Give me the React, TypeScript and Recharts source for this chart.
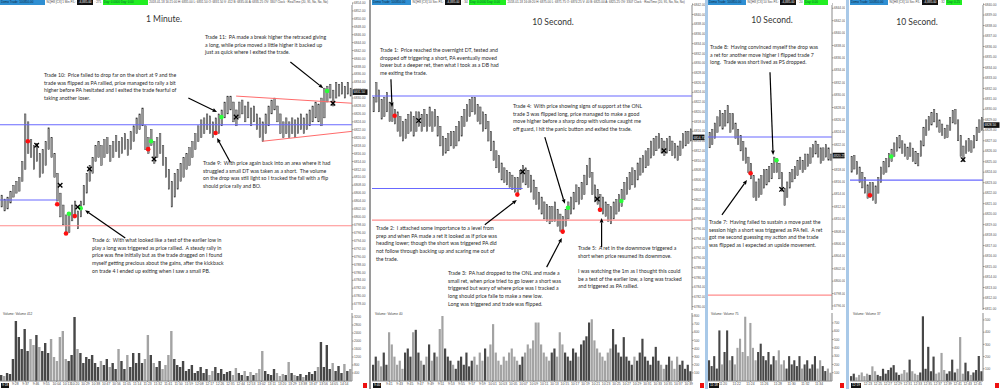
import React from "react";
import { ComposedChart, Bar, Scatter, XAxis, YAxis, ReferenceLine, Cell } from "recharts";

type Pair = [number, number];
type Seg = [number, number, number, number];

// levels carried over from the morning prep
const onh = 6823.25;
const prepLevel = 6804.25;
const onl = 6797.75;

// ---------- 1 minute ----------
const p1Start = "9:16";
const p1Step = 153; // seconds per drawn bar
// [low, high]
const p1Bars: Pair[] = [
  [6802.5, 6805.5], [6801.5, 6804.5], [6802, 6805], [6803.5, 6806.5], [6805, 6808], [6806, 6809], [6806.5, 6810], [6809, 6814], [6812, 6826], [6816, 6824],
  [6815, 6819.5], [6812, 6818], [6814, 6818.5], [6810, 6816], [6811, 6817], [6813, 6819], [6817, 6822.5], [6815, 6820], [6810, 6816], [6804, 6811],
  [6800, 6806], [6798, 6803], [6795.5, 6800.5], [6796, 6801], [6799, 6803], [6800, 6804], [6797, 6801.5], [6800, 6804], [6803, 6808], [6806, 6811],
  [6809, 6813], [6811, 6815], [6814, 6818], [6815, 6819], [6813, 6818], [6815, 6819.5], [6816, 6820], [6814, 6818], [6815, 6819], [6816.5, 6820.5],
  [6815, 6819], [6816, 6820], [6817, 6821], [6815.5, 6819.5], [6817, 6821.5], [6819, 6823], [6821, 6825], [6822, 6826], [6823, 6827.5], [6817, 6823],
  [6816, 6820], [6818, 6822], [6813.5, 6819], [6815, 6820], [6816, 6821], [6813, 6818], [6810, 6815], [6807, 6812], [6802.5, 6809], [6805, 6811],
  [6807, 6812], [6809, 6813.5], [6810, 6815], [6812, 6816], [6813, 6817.5], [6815, 6819], [6817, 6821], [6819, 6823], [6820, 6824.5], [6821, 6825],
  [6822, 6826], [6821, 6825.5], [6820, 6824], [6821, 6825], [6821, 6826], [6823, 6827], [6825, 6829], [6826, 6830.5], [6827, 6830.5], [6824, 6829],
  [6823, 6827], [6825, 6829], [6826, 6829.5], [6824, 6828], [6825, 6829], [6823, 6827.5], [6824, 6828], [6822, 6826], [6820, 6825], [6819, 6824],
  [6821, 6826], [6823, 6828], [6826, 6829.5], [6827, 6830], [6824, 6828], [6821, 6826], [6820, 6824], [6821, 6825], [6820, 6824], [6821, 6825],
  [6820, 6824.5], [6821, 6825], [6822, 6826], [6821, 6825], [6822, 6826], [6823, 6827], [6824, 6828], [6825, 6829], [6824, 6828.5], [6823, 6830],
  [6825, 6832.5], [6829, 6833], [6830, 6833.5], [6828, 6832], [6830, 6834], [6830.5, 6833.5], [6831, 6834], [6830, 6833], [6831, 6834], [6830.5, 6832.5],
];
const p1Volume = [
  300, 250, 400, 350, 1100, 3000, 2200, 1600, 2600, 1500,
  2100, 1800, 2300, 1700, 1500, 1900, 1400, 2100, 1200, 1000,
  2200, 2500, 1100, 1000, 1300, 3200, 1600, 1400, 900, 1200,
  1100, 1300, 900, 700, 1000, 800, 1100, 700, 900, 600,
  1600, 1000, 600, 1300, 700, 1400, 900, 1400, 900, 1100,
  2300, 1300, 900, 700, 1000, 600, 800, 1300, 2500, 1100,
  800, 700, 1000, 500, 600, 800, 400, 500, 700, 400,
  600, 300, 500, 700, 400, 600, 350, 450, 500, 300,
  650, 400, 300, 500, 250, 450, 300, 400, 600, 1500,
  500, 350, 300, 600, 400, 250, 350, 300, 950, 400,
  300, 250, 350, 200, 300, 450, 350, 500, 700, 1950,
  700, 1800, 600, 900, 500, 750, 400, 850, 500, 600,
];
const p1Times = [
  "9:28", "9:37", "9:46", "9:55", "10:04", "10:13", "10:20", "10:29", "10:38", "10:47", "10:56",
  "11:05", "11:14", "11:23", "11:32", "11:41", "11:50", "11:59", "12:08", "12:17", "12:26",
  "12:35", "12:44", "12:53", "13:02", "13:11", "13:20", "13:29", "13:38", "13:47", "13:56", "14:05", "14:14",
];
// [bar index, price]
const p1Longs: Pair[] = [[23, 6800.8], [27, 6802.2], [51, 6819.1], [75, 6825.2], [111, 6831.8]];
const p1Shorts: Pair[] = [[9, 6819.1], [19, 6803.2], [22, 6795.8], [25, 6800.2], [50, 6817.1], [73, 6821.2]];
const p1Exits: Pair[] = [[12, 6818.1], [20, 6808], [26, 6802.5], [30, 6812.1], [52, 6814.6], [80, 6825.2], [113, 6828.7]];
const p1Arrows: Seg[] = [[98.5, 6839.1, 109.7, 6832.5], [63.7, 6830, 73.5, 6826.5], [78, 6813.8, 73.5, 6819.9], [42.2, 6794.7, 28.5, 6801.7]];
const p1Trend: Seg[] = [[80, 6830.5, 119.5, 6828.7], [89, 6819.1, 119.5, 6821.6]];

// ---------- 10 second (a) ----------
const p2Start = "9:37:54";
const p2Step = 31;
const p2Bars: Pair[] = [
  [6820, 6823], [6822, 6826], [6820, 6824.5], [6818.5, 6822.5], [6819, 6823], [6820, 6824], [6818, 6822], [6818, 6821.5], [6817.5, 6820.5], [6816, 6820],
  [6815, 6819], [6814, 6818], [6814.5, 6818.5], [6815.5, 6819.5], [6816, 6820], [6815, 6819], [6816, 6820], [6817, 6820], [6816, 6819.5], [6817, 6820.5],
  [6816, 6819.5], [6817, 6821], [6816, 6820], [6817, 6820.5], [6815, 6819], [6813, 6817], [6811, 6815], [6811.5, 6814.5], [6812, 6815.5], [6813, 6816],
  [6812.5, 6816], [6813, 6817], [6814, 6818], [6815, 6819], [6817, 6820.5], [6818, 6821.5], [6819, 6822.5], [6820, 6823], [6819.5, 6823], [6818, 6821.5],
  [6817.5, 6821], [6816, 6820], [6816.5, 6819.5], [6814, 6818], [6812, 6816], [6810, 6814], [6808.5, 6812], [6807.5, 6811], [6806, 6809.5], [6805.5, 6808.5],
  [6805, 6808], [6804.5, 6807.5], [6804, 6807], [6803.5, 6806.5], [6803, 6806.5], [6804, 6808], [6805.5, 6809], [6805, 6808.5], [6804.5, 6808], [6803.5, 6807],
  [6802, 6806], [6801, 6804.5], [6800, 6803.5], [6799, 6802.5], [6798, 6801.5], [6797.5, 6801], [6797, 6800.5], [6797.5, 6800.5], [6797.5, 6801.5], [6796.5, 6800],
  [6795.5, 6799], [6795, 6798.5], [6796.5, 6800], [6798, 6801.5], [6799, 6802.5], [6800, 6803.5], [6801.5, 6805], [6801, 6804.5], [6802, 6805.5], [6803, 6807],
  [6805, 6809], [6806.5, 6810.5], [6803, 6807.5], [6801.5, 6805], [6801, 6804], [6799.5, 6803], [6799, 6802.5], [6798.5, 6801.5], [6797.5, 6801], [6797, 6800.5],
  [6798, 6801.5], [6799, 6802], [6799.5, 6803], [6800.5, 6804], [6802, 6805.5], [6803, 6806.5], [6804, 6807.5], [6805, 6808.5], [6804.5, 6808], [6806, 6809.5],
  [6807, 6810.5], [6807.5, 6811], [6808.5, 6812], [6809, 6812.5], [6810.5, 6814], [6811, 6814.5], [6812, 6815], [6812.5, 6815.5], [6811.5, 6814.5], [6811, 6814],
  [6811.5, 6814.5], [6812, 6815], [6811, 6814], [6810.5, 6813.5], [6810, 6813], [6811, 6814], [6812.5, 6815.5], [6813, 6816], [6813.5, 6816], [6814, 6816.5],
];
const p2Volume = [
  200, 300, 250, 180, 350, 200, 600, 450, 300, 200,
  250, 150, 350, 400, 300, 600, 630, 350, 250, 200,
  300, 450, 250, 350, 300, 640, 800, 400, 300, 250,
  200, 150, 250, 300, 200, 350, 180, 250, 300, 200,
  350, 250, 400, 300, 450, 700, 350, 250, 200, 300,
  250, 350, 400, 300, 250, 200, 300, 350, 450, 400,
  500, 720, 720, 450, 350, 300, 250, 350, 400, 300,
  600, 450, 350, 300, 250, 400, 350, 300, 450, 500,
  550, 720, 760, 500, 400, 350, 300, 250, 350, 400,
  640, 450, 350, 300, 540, 300, 250, 200, 300, 250,
  350, 520, 300, 250, 200, 300, 420, 250, 200, 150,
  200, 300, 250, 150, 300, 200, 250, 150, 200, 120,
];
const p2Times = [
  "9:41", "9:43", "9:45", "9:47", "9:49", "9:51", "9:53", "9:55", "9:57", "9:59",
  "10:01", "10:03", "10:05", "10:07", "10:09", "10:11", "10:13", "10:15", "10:17", "10:19",
  "10:21", "10:23", "10:25", "10:27", "10:29", "10:31", "10:33", "10:35", "10:37", "10:39",
];
const p2Longs: Pair[] = [[73, 6800.3], [93, 6801.7]];
const p2Shorts: Pair[] = [[8, 6819.2], [54, 6803], [71, 6795.4], [85, 6799.9]];
const p2Exits: Pair[] = [[17, 6818.2], [56, 6807.7], [84, 6802.1], [109, 6812]];
const p2Arrows: Seg[] = [
  [6.6, 6826.7, 7, 6821], [64.3, 6814.8, 71.8, 6801.1], [41.8, 6796.8, 53.8, 6801.9],
  [65, 6788.1, 70.7, 6794.1], [85.6, 6792.2, 85.6, 6798.2],
];

// ---------- 10 second (b) ----------
const p3Start = "11:18";
const p3Step = 22.6;
const p3Bars: Pair[] = [
  [6821.5, 6824], [6822, 6824.5], [6823, 6825.5], [6824, 6826.5], [6825, 6827.5], [6824.5, 6827], [6825, 6827.5], [6825.5, 6828.3], [6824, 6827], [6824.5, 6827],
  [6823, 6825.5], [6822, 6824.5], [6821, 6823.5], [6819.5, 6822.5], [6819, 6821.5], [6817.5, 6820], [6816.5, 6819], [6813.5, 6817], [6813, 6816], [6813.5, 6816.5],
  [6814, 6817], [6815, 6818], [6815.5, 6818], [6816, 6818.5], [6816.5, 6819], [6817.5, 6820], [6817.5, 6819.8], [6816.5, 6819], [6814.5, 6817.5], [6812.2, 6815],
  [6813.5, 6816], [6815, 6817.5], [6816, 6818], [6816.5, 6818.5], [6817, 6819.5], [6818, 6820], [6817.5, 6819.5], [6818, 6820.5], [6818.5, 6820.5], [6819, 6821.5],
  [6820, 6822], [6820.5, 6822.6], [6820, 6822], [6819, 6821.5], [6819.5, 6821.5], [6820, 6822], [6819.5, 6821.5], [6819.5, 6820.5],
];
const p3Volume = [
  250, 180, 300, 150, 610, 200, 350, 610, 250, 300,
  200, 400, 510, 350, 775, 300, 700, 400, 250, 350,
  450, 300, 250, 350, 200, 300, 250, 370, 200, 250,
  150, 300, 200, 250, 180, 300, 150, 200, 250, 150,
  200, 300, 150, 250, 180, 120, 150, 100,
];
const p3Times = ["11:20", "11:22", "11:24", "11:26", "11:28", "11:30", "11:32", "11:34"];
const p3Longs: Pair[] = [[26, 6819.5]];
const p3Shorts: Pair[] = [[16, 6817.4]];
const p3Exits: Pair[] = [[28, 6814.8]];
const p3Arrows: Seg[] = [[23.5, 6833.7, 24.7, 6820.35], [4.9, 6810.7, 14.6, 6816.3]];

// ---------- 10 second (c) ----------
const p4Start = "12:19:40";
const p4Step = 32;
const p4Bars: Pair[] = [
  [6824, 6825.5], [6824.3, 6825.6], [6823.8, 6825], [6823, 6824.5], [6822.5, 6824], [6822, 6823.5], [6821.5, 6822.8], [6821.6, 6823], [6821.3, 6823], [6821, 6822.7],
  [6822, 6823.5], [6823, 6824.5], [6823.8, 6825], [6824, 6825.3], [6824.5, 6825.8], [6825, 6826.2], [6825.5, 6826.8], [6826, 6827.3], [6826.3, 6827.5], [6825.8, 6827],
  [6825.5, 6826.7], [6825.2, 6826.4], [6825.5, 6826.8], [6825, 6826.3], [6824.8, 6826], [6824.6, 6825.8], [6825.5, 6827], [6826.5, 6828.3], [6827.5, 6829], [6828, 6829.3],
  [6828.5, 6829.7], [6828.8, 6830], [6828.3, 6829.6], [6827.8, 6829], [6827.5, 6828.6], [6827.2, 6828.2], [6827.3, 6828.5], [6828, 6829.2], [6828.7, 6829.9], [6828.6, 6830],
  [6827, 6829], [6825.5, 6827.5], [6825, 6826.5], [6825.8, 6827], [6826, 6827.2], [6825.9, 6827], [6826.3, 6827.5], [6827, 6828.3], [6827.8, 6829], [6828, 6829.2],
];
const p4Volume = [
  40, 60, 30, 50, 70, 40, 60, 50, 120, 80,
  50, 40, 100, 60, 90, 110, 130, 70, 50, 60,
  90, 70, 175, 80, 60, 50, 70, 530, 100, 280,
  80, 200, 60, 70, 230, 90, 60, 80, 175, 70,
  100, 360, 60, 150, 80, 50, 70, 90, 205, 80,
];
const p4Times = ["12:23", "12:25", "12:27", "12:29", "12:31", "12:33", "12:35", "12:37", "12:39", "12:41", "12:43", "12:45"];
const p4Longs: Pair[] = [[15, 6825.5]];
const p4Shorts: Pair[] = [[7, 6821.8]];
const p4Exits: Pair[] = [[42, 6825.2]];

// ---------- notes on the chart ----------
const titles = [
  { x: 164, y: 19, text: "1 Minute." },
  { x: 553, y: 22, text: "10 Second." },
  { x: 772, y: 20, text: "10 Second." },
  { x: 917, y: 22, text: "10 Second." },
];
const notes = [
  { x: 205, y: 34, lines: ["Trade 11:  PA made a break higher the retraced giving", "a long, while price moved a little higher it backed up", "just as quick where I exited the trade."] },
  { x: 44, y: 72, lines: ["Trade 10:  Price failed to drop far on the short at 9 and the", "trade was flipped as PA rallied, price managed to rally a bit", "higher before PA hesitated and I exited the trade fearful of", "taking another loser."] },
  { x: 203, y: 160, lines: ["Trade 9:  With price again back into an area where it had", "struggled a small DT was taken as a short.  The volume", "on the drop was still light so I tracked the fall with a flip", "should price rally and BO."] },
  { x: 92, y: 237, lines: ["Trade 6:  With what looked like a test of the earlier low in", "play a long was triggered as price rallied.  A steady rally in", "price was fine initially but as the trade dragged on I found", "myself getting precious about the gains, after the kickback", "on trade 4 I ended up exiting when I saw a small PB."] },
  { x: 380, y: 47, lines: ["Trade 1:  Price reached the overnight DT, tested and", "dropped off triggering a short, PA eventually moved", "lower but a deeper ret, then what I took as a DB had", "me exiting the trade."] },
  { x: 513, y: 103, lines: ["Trade 4:  With price showing signs of support at the ONL", "trade 3 was flipped long, price managed to make a good", "move higher before a sharp drop with volume caught me", "off guard, I hit the panic button and exited the trade."] },
  { x: 376, y: 225, lines: ["Trade 2:  I attached some importance to a level from", "prep and when PA made a ret it looked as if price was", "heading lower; though the short was triggered PA did", "not follow through backing up and scaring me out of", "the trade."] },
  { x: 448, y: 270, lines: ["Trade 3:  PA had dropped to the ONL and made a", "small ret, when price tried to go lower a short was", "triggered but wary of where price was I tracked a", "long should price faile to make a new low.", "Long was triggered and trade was flipped."] },
  { x: 578, y: 245, lines: ["Trade 5:  A ret in the downmove triggered a", "short when price resumed its downmove.", "", "I was watching the 1m as I thought this could", "be a test of the earlier low, a long was tracked", "and triggered as PA rallied."] },
  { x: 710, y: 44, lines: ["Trade 8:  Having convinced myself the drop was", "a ret for another move higher I flipped trade 7", "long.  Trade was short lived as PS dropped."] },
  { x: 709, y: 219, lines: ["Trade 7:  Having failed to sustain a move past the", "session high a short was triggered as PA fell.  A ret", "got me second guessing my action and the trade", "was flipped as I expected an upside movement."] },
];

const toSec = (s: string) => {
  const [h, m, x] = s.split(":").map(Number);
  return h * 3600 + m * 60 + (x || 0);
};
const fmtTime = (v: number) => {
  const h = Math.floor(v / 3600);
  const m = Math.round((v - h * 3600) / 60);
  return `${h}:${String(m).padStart(2, "0")}`;
};
const steps = (from: number, to: number, by: number) => {
  const out: number[] = [];
  for (let v = from; v <= to + 1e-9; v += by) out.push(v);
  return out;
};

const panels = [
  {
    left: 0, plotW: 352, axisW: 16, barW: 1.5, volW: 2.4,
    start: p1Start, step: p1Step, bars: p1Bars, volume: p1Volume, times: p1Times,
    longs: p1Longs, shorts: p1Shorts, exits: p1Exits, arrows: p1Arrows, trend: p1Trend, prepEnd: 19,
    priceDomain: [6776.5, 6854], priceTicks: steps(6778, 6854, 2), last: 6831.5,
    volDomain: [0, 3400], volTicks: steps(400, 3200, 400), volLabel: "Volume: Volume 412", cursor: "9:18",
    head: { blue: 44, sym: "NQH8 [CX] 1 Min   P/L:", pl: "-6,885.00", mid: ": 275", green: 44, day: "Day: 0.0000  Day: 0.00", info: "2018-01-18 16:21:00 H: 6835.00 L: 6831.50 O: 6831.50 V: 412 B: 6835.00 A: 6835.25 OV: 3307 Clock · RealTime   (20, 95, No, No, No)" },
  },
  {
    left: 372, plotW: 320, axisW: 13, barW: 1.4, volW: 2.2,
    start: p2Start, step: p2Step, bars: p2Bars, volume: p2Volume, times: p2Times,
    longs: p2Longs, shorts: p2Shorts, exits: p2Exits, arrows: p2Arrows, trend: [] as Seg[], prepEnd: 56,
    priceDomain: [6779.3, 6842.35], priceTicks: steps(6780, 6842, 2), last: 6814.75,
    volDomain: [0, 837], volTicks: steps(100, 800, 100), volLabel: "Volume: Volume 40", cursor: "9:40",
    head: { blue: 38, sym: "NQH8 [CX] 10 Sec   P/L:", pl: "-6,885.00", mid: ": 34", green: 36, day: "Day: 0.0000  Day: 0.00", info: "2018-01-18 16:09:20 H: 6875.00 L: 6871.75 O: 6874.25 V: 40 B: 6825.00 A: 6825.25 OV: 3307 Clock · RealTime   (20, 95, No, No, No)" },
  },
  {
    left: 708, plotW: 124, axisW: 13, barW: 1.4, volW: 2.1,
    start: p3Start, step: p3Step, bars: p3Bars, volume: p3Volume, times: p3Times,
    longs: p3Longs, shorts: p3Shorts, exits: p3Exits, arrows: p3Arrows, trend: [] as Seg[], prepEnd: null,
    priceDomain: [6795.35, 6844.85], priceTicks: steps(6796, 6844, 2), last: 6820.25,
    volDomain: [0, 820], volTicks: steps(100, 700, 100), volLabel: "Volume: Volume 75", cursor: "11:18",
    head: { blue: 37, sym: "NQH8 [CX] 10 Sec   P/L:", pl: "-6,885.00", mid: ": 20", green: 23, day: "Day: 0.00", info: "" },
  },
  {
    left: 850, plotW: 133, axisW: 17, barW: 1.4, volW: 2.2,
    start: p4Start, step: p4Step, bars: p4Bars, volume: p4Volume, times: p4Times,
    longs: p4Longs, shorts: p4Shorts, exits: p4Exits, arrows: [] as Seg[], trend: [] as Seg[], prepEnd: null,
    priceDomain: [6810.85, 6840.15], priceTicks: steps(6811, 6840, 1), last: 6828.5,
    volDomain: [0, 557], volTicks: steps(100, 500, 100), volLabel: "Volume: Volume 37", cursor: "12:19",
    head: { blue: 37, sym: "NQH8 [CX] 10 Sec   P/L:", pl: "-6,885.00", mid: ": 32", green: 15, day: "Day: 0.25", info: "" },
  },
];

const Candle = (props: any) => {
  const { x, y, width, height } = props;
  if (x == null || y == null) return null;
  return <rect x={x} y={y} width={width} height={Math.max(height, 0.8)} fill="#9a9a9a" stroke="#333" strokeWidth={0.45} />;
};
const RedDot = (p: any) => <circle cx={p.cx} cy={p.cy} r={2.3} fill="#ff1010" />;
const GreenDot = (p: any) => <circle cx={p.cx} cy={p.cy} r={2.3} fill="#2bff3a" />;
const ExitMark = (p: any) => (
  <g stroke="#000" strokeWidth={1.3} strokeLinecap="square">
    <line x1={p.cx - 1.8} y1={p.cy - 1.8} x2={p.cx + 1.8} y2={p.cy + 1.8} />
    <line x1={p.cx - 1.8} y1={p.cy + 1.8} x2={p.cx + 1.8} y2={p.cy - 1.8} />
  </g>
);
const Arrow = (props: any) => {
  const { x1, y1, x2, y2 } = props;
  const a = Math.atan2(y2 - y1, x2 - x1);
  const bx = x2 - 4.5 * Math.cos(a);
  const by = y2 - 4.5 * Math.sin(a);
  const sx = 1.9 * Math.sin(a);
  const sy = 1.9 * Math.cos(a);
  return (
    <g>
      <line x1={x1} y1={y1} x2={bx} y2={by} stroke="#000" strokeWidth={1.2} />
      <polygon points={`${x2},${y2} ${bx + sx},${by - sy} ${bx - sx},${by + sy}`} fill="#000" />
    </g>
  );
};

function Panel({ cfg }: { cfg: (typeof panels)[number] }) {
  const t0 = toSec(cfg.start);
  const t = (i: number) => t0 + i * cfg.step;
  const width = cfg.plotW + cfg.axisW;
  const rows = cfg.bars.map(([lo, hi], i) => {
    const prev = cfg.bars[i - 1];
    return { t: t(i), range: [lo, hi], vol: cfg.volume[i], up: !prev || lo + hi >= prev[0] + prev[1] };
  });
  const xDomain = [t(-0.5), t(cfg.bars.length - 0.5)];
  const pts = (list: Pair[]) => list.map(([i, p]) => ({ t: t(i), p }));
  const h = cfg.head;

  return (
    <div style={{ position: "absolute", left: cfg.left, top: 0, width, height: 389 }}>
      <div style={{ position: "absolute", left: 0, top: 0 }}>
        <ComposedChart width={width} height={310} data={rows} margin={{ top: 3, right: 0, bottom: 0, left: 0 }}>
          <XAxis type="number" dataKey="t" domain={xDomain} allowDataOverflow hide />
          <YAxis
            orientation="right"
            width={cfg.axisW}
            domain={cfg.priceDomain}
            ticks={cfg.priceTicks}
            allowDataOverflow
            interval={0}
            tickFormatter={(v: number) => v.toFixed(2)}
            tick={{ fontSize: 3.2, fill: "#555" }}
            tickSize={1.5}
            tickMargin={0.5}
            axisLine={{ stroke: "#8a8a8a" }}
            tickLine={{ stroke: "#8a8a8a" }}
          />
          <ReferenceLine y={onl} stroke="#ff8c8c" strokeWidth={1.1} />
          <ReferenceLine y={onh} stroke="#6868ff" strokeWidth={1.1} />
          {cfg.prepEnd != null && (
            <ReferenceLine segment={[{ x: t(-0.5), y: prepLevel }, { x: t(cfg.prepEnd), y: prepLevel }]} stroke="#6868ff" strokeWidth={1.1} />
          )}
          {cfg.trend.map((s, k) => (
            <ReferenceLine key={`tr${k}`} segment={[{ x: t(s[0]), y: s[1] }, { x: t(s[2]), y: s[3] }]} stroke="#ff6b6b" strokeWidth={1} />
          ))}
          <Bar dataKey="range" barSize={cfg.barW} shape={Candle} isAnimationActive={false} />
          <Scatter data={pts(cfg.shorts)} dataKey="p" shape={RedDot} isAnimationActive={false} />
          <Scatter data={pts(cfg.longs)} dataKey="p" shape={GreenDot} isAnimationActive={false} />
          <Scatter data={pts(cfg.exits)} dataKey="p" shape={ExitMark} isAnimationActive={false} />
          {cfg.arrows.map((s, k) => (
            <ReferenceLine key={`ar${k}`} segment={[{ x: t(s[0]), y: s[1] }, { x: t(s[2]), y: s[3] }]} shape={Arrow} />
          ))}
          <ReferenceLine
            y={cfg.last}
            stroke="none"
            label={(p: any) => (
              <g>
                <rect x={p.viewBox.x + p.viewBox.width + 0.5} y={p.viewBox.y - 2.8} width={cfg.axisW - 1} height={5.6} fill="#111" />
                <text x={p.viewBox.x + p.viewBox.width + 1.5} y={p.viewBox.y + 1.2} fontSize={3.2} fill="#fff">
                  {cfg.last.toFixed(2)}
                </text>
              </g>
            )}
          />
        </ComposedChart>
      </div>

      <div style={{ position: "absolute", left: 0, top: 312 }}>
        <ComposedChart width={width} height={77} data={rows} margin={{ top: 1, right: 0, bottom: 0, left: 0 }}>
          <XAxis
            type="number"
            dataKey="t"
            domain={xDomain}
            allowDataOverflow
            ticks={cfg.times.map(toSec)}
            interval={0}
            tickFormatter={fmtTime}
            height={8}
            tick={{ fontSize: 3.4, fill: "#444" }}
            tickSize={1}
            tickMargin={0.5}
            axisLine={{ stroke: "#8a8a8a" }}
            tickLine={{ stroke: "#8a8a8a" }}
          />
          <YAxis
            orientation="right"
            width={cfg.axisW}
            domain={cfg.volDomain}
            ticks={cfg.volTicks}
            allowDataOverflow
            interval={0}
            tick={{ fontSize: 3.2, fill: "#555" }}
            tickSize={1.5}
            tickMargin={0.5}
            axisLine={{ stroke: "#8a8a8a" }}
            tickLine={{ stroke: "#8a8a8a" }}
          />
          <Bar dataKey="vol" barSize={cfg.volW} isAnimationActive={false}>
            {rows.map((r, i) => (
              <Cell key={i} fill={r.up ? "#474747" : "#a3a3a3"} />
            ))}
          </Bar>
        </ComposedChart>
      </div>

      {/* header strip */}
      <div style={{ position: "absolute", left: 0, top: 0, width: cfg.plotW, height: 5, display: "flex", fontSize: 3, lineHeight: "5px", whiteSpace: "nowrap", overflow: "hidden", color: "#444", background: "#fff" }}>
        <span style={{ background: "#2f8fd2", color: "#0c2a44", width: h.blue, paddingLeft: 1, overflow: "hidden" }}>Demo Trade: 100850.00</span>
        <span style={{ padding: "0 1.5px" }}>{h.sym}</span>
        <span style={{ background: "#111", color: "#fff", padding: "0 1.5px" }}>{h.pl}</span>
        <span style={{ padding: "0 1.5px" }}>{h.mid}</span>
        <span style={{ background: "#22ee22", color: "#063", width: h.green, paddingLeft: 1, overflow: "hidden" }}>{h.day}</span>
        <span style={{ padding: "0 1.5px" }}>{h.info}</span>
      </div>

      <div style={{ position: "absolute", left: 3, top: 311.5, fontSize: 3.2, color: "#444", whiteSpace: "nowrap" }}>{cfg.volLabel}</div>
      <div style={{ position: "absolute", left: 1, top: 382.5, height: 5.5, padding: "0 1px", background: "#111", color: "#fff", fontSize: 3.2, lineHeight: "5.5px" }}>{cfg.cursor}</div>
      <div style={{ position: "absolute", left: width - 5, top: 382.5, width: 4, height: 5.5, background: "#ee1111" }} />
    </div>
  );
}

export default function App() {
  return (
    <div style={{ position: "absolute", left: 0, top: 0, width: 1000, height: 389, overflow: "hidden", background: "#fff", fontFamily: "'Liberation Sans', Arial, sans-serif" }}>
      {panels.map((cfg, k) => (
        <Panel key={k} cfg={cfg} />
      ))}
      {/* panel separators */}
      <div style={{ position: "absolute", left: 369, top: 0, width: 2, height: 389, background: "#9a9a9a" }} />
      <div style={{ position: "absolute", left: 705, top: 0, width: 3, height: 389, background: "#a9c9e8" }} />
      <div style={{ position: "absolute", left: 846, top: 0, width: 3, height: 389, background: "#a9c9e8" }} />
      {titles.map((tt, k) => (
        <div key={`ti${k}`} style={{ position: "absolute", left: tt.x, top: tt.y, transform: "translate(-50%, -50%)", fontFamily: "Lato", fontSize: 8.5, color: "#333", whiteSpace: "nowrap" }}>
          {tt.text}
        </div>
      ))}
      {notes.map((n, k) => (
        <div key={`n${k}`} style={{ position: "absolute", left: n.x, top: n.y, fontFamily: "Lato", fontSize: 5.2, lineHeight: "7.7px", color: "#2a2a2a", whiteSpace: "pre" }}>
          {n.lines.map((l, j) => (
            <div key={j} style={{ height: 7.7 }}>{l}</div>
          ))}
        </div>
      ))}
    </div>
  );
}
